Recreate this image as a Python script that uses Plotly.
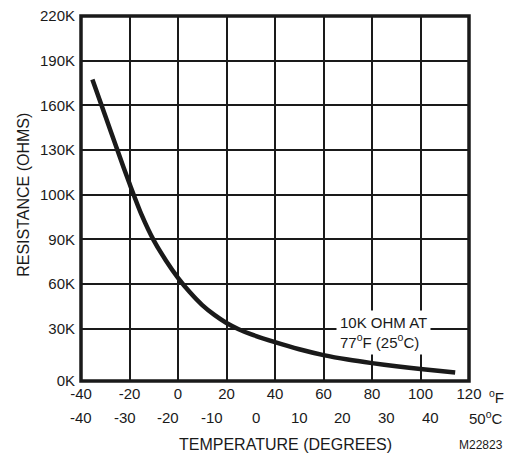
import plotly.graph_objects as go

# temperature in degrees F along the curve
temp_f = [-35.3, -30, -25, -20, -15, -10, -5, 0, 5, 10, 15, 20, 25, 30,
          40, 50, 60, 70, 80, 90, 100, 114.3]
# resistance, in grid rows (0K row at bottom)
resistance_rows = [6.75, 5.94, 5.17, 4.42, 3.72, 3.15, 2.70, 2.31, 1.98, 1.70, 1.48, 1.30,
                   1.16, 1.05, 0.87, 0.71, 0.58, 0.48, 0.40, 0.33, 0.27, 0.19]

f_ticks = [-40, -20, 0, 20, 40, 60, 80, 100, 120]
c_ticks = [-40, -30, -20, -10, 0, 10, 20, 30, 40]
y_tick_pos = [0, 1.17, 2.17, 3.17, 4.17, 5.17, 6.17, 7.17, 8.17]
y_tick_text = ['0K', '30K', '60K', '90K', '100K', '130K', '160K', '190K', '220K']

FONT = 'Liberation Sans, Arial, sans-serif'
INK = '#1a1a1a'

fig = go.Figure()
fig.add_trace(go.Scatter(x=temp_f, y=resistance_rows, mode='lines',
                         line=dict(color=INK, width=4.5, shape='spline', smoothing=0.8),
                         hoverinfo='skip', showlegend=False))

# celsius row, placed at the matching fahrenheit position
annos = []
for c in c_ticks:
    f = c * 9 / 5 + 32
    annos.append(dict(x=f, y=-0.101, xref='x', yref='paper', text=str(c),
                      showarrow=False, xanchor='center', yanchor='middle',
                      font=dict(size=15)))
annos += [
    dict(x=1.093, y=-0.101, xref='paper', yref='paper', text='50<sup>o</sup>C',
         showarrow=False, xanchor='right', yanchor='middle', font=dict(size=15)),
    dict(x=1.046, y=-0.043, xref='paper', yref='paper', text='<sup>o</sup>F',
         showarrow=False, xanchor='left', yanchor='middle', font=dict(size=15)),
    dict(x=0.528, y=-0.175, xref='paper', yref='paper', text='TEMPERATURE (DEGREES)',
         showarrow=False, xanchor='center', yanchor='middle', font=dict(size=16)),
    dict(x=1.092, y=-0.175, xref='paper', yref='paper', text='M22823',
         showarrow=False, xanchor='right', yanchor='middle', font=dict(size=12)),
    dict(x=-0.147, y=0.51, xref='paper', yref='paper', text='RESISTANCE (OHMS)',
         textangle=-90, showarrow=False, xanchor='center', yanchor='middle',
         font=dict(size=16)),
    dict(x=84.8, y=1.08, xref='x', yref='y',
         text='10K OHM AT<br>77<sup>o</sup>F (25<sup>o</sup>C)',
         showarrow=False, xanchor='center', yanchor='middle', align='left',
         bgcolor='white', borderpad=3, font=dict(size=15)),
]

# the page body has an 8px margin, so the figure is sized to fit the window
fig.update_layout(
    width=506, height=447,
    margin=dict(l=73, r=45, t=8, b=74),
    plot_bgcolor='white', paper_bgcolor='white',
    font=dict(family=FONT, color=INK, size=15),
    showlegend=False,
    annotations=annos,
    shapes=[dict(type='rect', xref='paper', yref='paper', x0=0, y0=0, x1=1, y1=1,
                 line=dict(color=INK, width=3.5), layer='above')],
    xaxis=dict(range=[-40, 120], tickvals=f_ticks, ticktext=[str(v) for v in f_ticks],
               showgrid=True, gridcolor=INK, gridwidth=2, zeroline=False,
               showline=False, ticks='', ticklabelstandoff=2, automargin=False,
               ticklabeloverflow='allow', fixedrange=True),
    yaxis=dict(range=[0, 8.172], tickvals=y_tick_pos, ticktext=y_tick_text,
               showgrid=True, gridcolor=INK, gridwidth=2, zeroline=False,
               showline=False, ticks='', ticklabelstandoff=5, automargin=False,
               ticklabeloverflow='allow', fixedrange=True),
)

fig.write_html("out.html")
